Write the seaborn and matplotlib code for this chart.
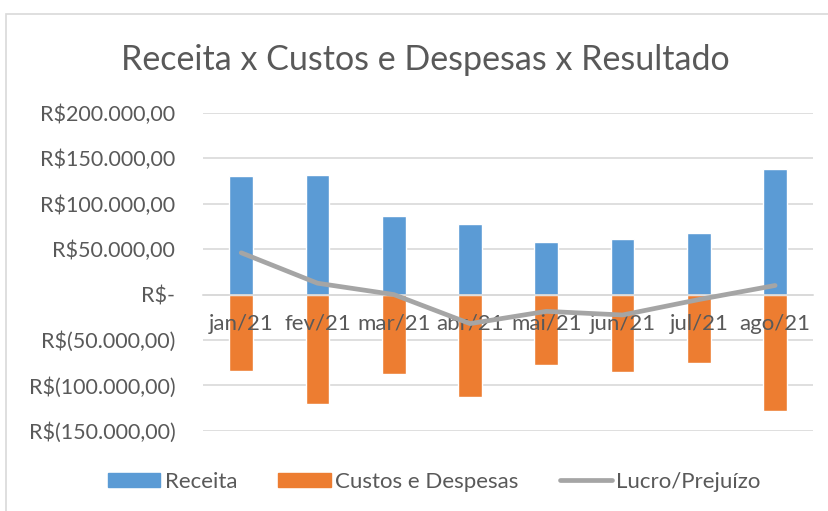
import matplotlib.pyplot as plt
import matplotlib.ticker as mticker
from matplotlib.patches import Rectangle
import pandas as pd
import seaborn as sns

meses = ["jan/21", "fev/21", "mar/21", "abr/21", "mai/21", "jun/21", "jul/21", "ago/21"]
receita = [130000, 132000, 86000, 78000, 57500, 61500, 68000, 138000]
custos = [-84000, -121000, -88000, -112500, -78000, -85500, -75000, -128500]
lucro = [46000, 12500, 0, -32000, -18500, -22500, -5500, 10000]

df = pd.DataFrame({"Mes": meses, "Receita": receita, "Custos": custos, "Lucro": lucro})

sns.set_style("white")
plt.rcParams["font.family"] = ["Lato", "DejaVu Sans"]

txt = "#595959"
fig = plt.figure(figsize=(8.29, 5.11), dpi=100)
ax = fig.add_axes([0.245, 0.157, 0.736, 0.622])

sns.barplot(data=df, x="Mes", y="Receita", color="#5B9BD5", width=0.31,
            saturation=1, ax=ax, zorder=2)
sns.barplot(data=df, x="Mes", y="Custos", color="#ED7D31", width=0.31,
            saturation=1, ax=ax, zorder=2)
sns.lineplot(data=df, x="Mes", y="Lucro", color="#A5A5A5", linewidth=3.4,
             ax=ax, zorder=6, solid_capstyle="round")

ax.set_ylim(-150000, 200000)
ax.set_xlim(-0.5, 7.5)
ax.yaxis.set_major_locator(mticker.MultipleLocator(50000))


def fmt_real(v, pos):
    if abs(v) < 1:
        return "R$-"
    s = f"{abs(v):,.2f}".replace(",", "X").replace(".", ",").replace("X", ".")
    return f"R$({s})" if v < 0 else f"R${s}"


ax.yaxis.set_major_formatter(mticker.FuncFormatter(fmt_real))
ax.grid(axis="y", color="#D9D9D9", linewidth=1.2, zorder=0)
ax.set_axisbelow(True)
for side in ["top", "right", "left"]:
    ax.spines[side].set_visible(False)
ax.spines["bottom"].set_position(("data", 0))
ax.spines["bottom"].set_color("#D9D9D9")
ax.spines["bottom"].set_linewidth(1.2)
ax.spines["bottom"].set_zorder(3)

ax.set_xlabel("")
ax.set_ylabel("")
ax.tick_params(axis="y", length=0, labelsize=15.5, labelcolor=txt, pad=20)
ax.tick_params(axis="x", which="major", length=0, labelsize=16, labelcolor=txt, pad=14)
ax.set_xticks(range(len(meses)))
ax.set_xticklabels(meses)
ax.set_xticks([i - 0.5 for i in range(len(meses) + 1)], minor=True)
ax.tick_params(axis="x", which="minor", length=5, color="#D9D9D9", width=1.2, direction="out")
ax.xaxis.set_zorder(5)

fig.text(0.513, 0.883, "Receita x Custos e Despesas x Resultado", ha="center", va="center",
         fontsize=24.5, color=txt)

handles = [
    Rectangle((0, 0), 1, 1, color="#5B9BD5"),
    Rectangle((0, 0), 1, 1, color="#ED7D31"),
    plt.Line2D([0], [0], color="#A5A5A5", linewidth=3.4, solid_capstyle="round"),
]
fig.legend(handles, ["Receita", "Custos e Despesas", "Lucro/Prejuízo"],
           loc="center", bbox_to_anchor=(0.524, 0.057), ncol=3, frameon=False,
           fontsize=16, labelcolor=txt, handlelength=2.35, handleheight=0.63,
           handletextpad=0.2, columnspacing=1.85)

fig.patches.append(Rectangle((6 / 829, -0.1), 1.1, 1 - 14 / 511 + 0.1,
                             transform=fig.transFigure, fill=False,
                             edgecolor="#D9D9D9", linewidth=1.2))

fig.savefig("out.png", dpi=100)
